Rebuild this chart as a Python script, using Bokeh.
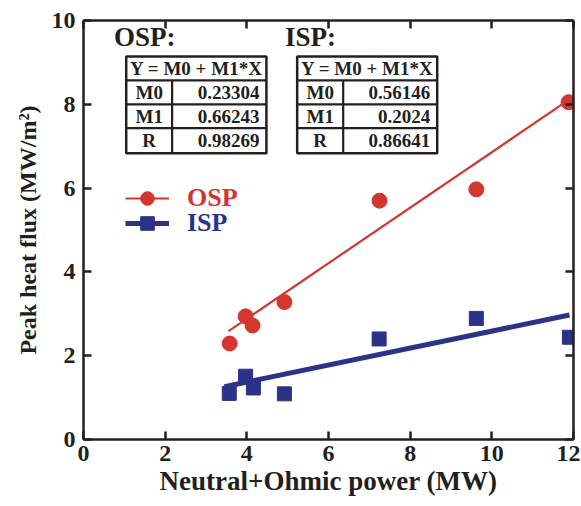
from bokeh.plotting import figure
from bokeh.models import Range1d, LinearAxis, FixedTicker, Legend, LegendItem
from bokeh.core.properties import value
from bokeh.embed import file_html
from bokeh.resources import INLINE

# ---- data ----
power_osp = [3.58, 3.97, 4.14, 4.92, 7.25, 9.62, 11.88]
flux_osp = [2.29, 2.94, 2.72, 3.28, 5.70, 5.97, 8.05]
power_isp = [3.57, 3.97, 4.16, 4.92, 7.24, 9.62, 11.90]
flux_isp = [1.10, 1.51, 1.23, 1.09, 2.40, 2.89, 2.44]

fit_osp_M0, fit_osp_M1, fit_osp_R = 0.23304, 0.66243, 0.98269
fit_isp_M0, fit_isp_M1, fit_isp_R = 0.56146, 0.2024, 0.86641
fit_osp_x = [3.55, 11.9]
fit_isp_x = [3.45, 11.9]

table_header = "Y = M0 + M1*X"
table_row_names = ["M0", "M1", "R"]
osp_table_values = ["0.23304", "0.66243", "0.98269"]
isp_table_values = ["0.56146", "0.2024", "0.86641"]

x_ticks = [0, 2, 4, 6, 8, 10, 12]
y_ticks = [0, 2, 4, 6, 8, 10]

RED = "#d3362d"
BLUE = "#2b3388"
INK = "#231f20"
FONT = value("Liberation Serif")

p = figure(width=580, height=498, output_backend="svg", toolbar_location=None,
           x_range=Range1d(0, 12), y_range=Range1d(0, 10),
           min_border_left=83, min_border_right=7, min_border_top=20, min_border_bottom=58,
           x_axis_location=None, y_axis_location=None)
p.grid.visible = False
p.outline_line_color = None
p.background_fill_color = "white"
p.border_fill_color = "white"


def style_axis(ax, ticks, labels=True):
    ax.ticker = FixedTicker(ticks=ticks)
    ax.axis_line_width = 2.5
    ax.axis_line_color = INK
    ax.major_tick_in = 8
    ax.major_tick_out = 0
    ax.major_tick_line_width = 2.5
    ax.major_tick_line_color = INK
    ax.minor_tick_line_color = None
    ax.major_label_text_font = "Liberation Serif"
    ax.major_label_text_font_style = "bold"
    ax.major_label_text_color = INK
    ax.major_label_text_font_size = "24px"
    if not labels:
        ax.major_label_overrides = {t: "" for t in ticks}
        ax.major_label_standoff = 0


xb = LinearAxis(axis_label="Neutral+Ohmic power (MW)")
xt = LinearAxis()
yl = LinearAxis(axis_label="Peak heat flux (MW/m²)")
yr = LinearAxis()
style_axis(xb, x_ticks)
style_axis(xt, x_ticks, labels=False)
style_axis(yl, y_ticks)
style_axis(yr, y_ticks, labels=False)
xb.major_label_standoff = 6
yl.major_label_standoff = 8
for ax in (xb, yl):
    ax.axis_label_text_font = "Liberation Serif"
    ax.axis_label_text_font_style = "bold"
    ax.axis_label_text_color = INK
xb.axis_label_text_font_size = "27px"
yl.axis_label_text_font_size = "24px"
xb.axis_label_standoff = 2
yl.axis_label_standoff = 8
p.add_layout(xb, "below")
p.add_layout(xt, "above")
p.add_layout(yl, "left")
p.add_layout(yr, "right")

# ---- fit lines ----
osp_line = p.line(fit_osp_x, [fit_osp_M0 + fit_osp_M1 * x for x in fit_osp_x],
                  line_color=RED, line_width=2.2)
isp_line = p.line(fit_isp_x, [fit_isp_M0 + fit_isp_M1 * x for x in fit_isp_x],
                  line_color=BLUE, line_width=5)

# ---- points ----
osp_pts = p.scatter(power_osp, flux_osp, marker="circle", size=15,
                    fill_color=RED, line_color=RED)
isp_pts = p.scatter(power_isp, flux_isp, marker="square", size=14,
                    fill_color=BLUE, line_color=BLUE)

# ---- legends ----
leg1 = Legend(items=[LegendItem(label="OSP", renderers=[osp_line, osp_pts])],
              location=(42, 224), label_text_color=RED)
leg2 = Legend(items=[LegendItem(label="ISP", renderers=[isp_line, isp_pts])],
              location=(42, 199), label_text_color=BLUE)
for lg in (leg1, leg2):
    lg.glyph_width = 44
    lg.glyph_height = 34
    lg.label_height = 34
    lg.label_standoff = 18
    lg.label_text_font = "Liberation Serif"
    lg.label_text_font_style = "bold"
    lg.label_text_font_size = "26px"
    lg.border_line_color = None
    lg.background_fill_alpha = 0
    lg.padding = 0
    lg.margin = 0
    lg.spacing = 0
    p.add_layout(lg)

# ---- fit tables ----
row_top = [9.143, 8.571, 8.0, 7.429]
row_bot = 6.833


def draw_table(title, left, div, right, values):
    p.text([left - 0.3], [9.6], text=[title], text_font=FONT, text_font_style="bold",
           text_font_size="27px", text_color=INK, text_baseline="middle", text_align="left")
    p.quad(left=[left], right=[right], top=[row_top[0]], bottom=[row_bot],
           fill_color=None, line_color=INK, line_width=2.5)
    p.segment(x0=[left] * 3, x1=[right] * 3, y0=row_top[1:], y1=row_top[1:],
              line_color=INK, line_width=2.2)
    p.segment(x0=[div], x1=[div], y0=[row_top[1]], y1=[row_bot],
              line_color=INK, line_width=2.2)
    p.text([(left + right) / 2], [(row_top[0] + row_top[1]) / 2], text=[table_header],
           text_font=FONT, text_font_style="bold", text_font_size="19px", text_color=INK,
           text_baseline="middle", text_align="center")
    ys = [(row_top[1] + row_top[2]) / 2, (row_top[2] + row_top[3]) / 2,
          (row_top[3] + row_bot) / 2]
    p.text([(left + div) / 2] * 3, ys, text=table_row_names, text_font=FONT,
           text_font_style="bold", text_font_size="19px", text_color=INK,
           text_baseline="middle", text_align="center")
    p.text([right - 0.17] * 3, ys, text=values, text_font=FONT,
           text_font_style="bold", text_font_size="19px", text_color=INK,
           text_baseline="middle", text_align="right")


draw_table("OSP:", 1.046, 2.17, 4.48, osp_table_values)
draw_table("ISP:", 5.233, 6.36, 8.662, isp_table_values)

open("out.html", "w").write(file_html(p, INLINE))
